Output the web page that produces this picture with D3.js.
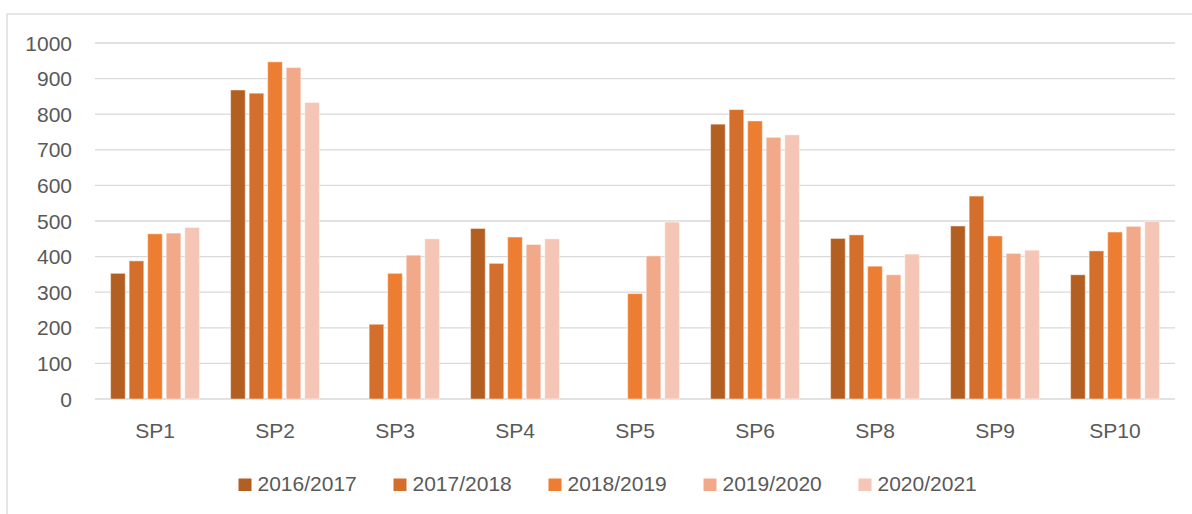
<!DOCTYPE html>
<html>
<head>
<meta charset="utf-8">
<script src="https://cdn.jsdelivr.net/npm/d3@7"></script>
<style>
  html, body { margin: 0; padding: 0; background: #fff; }
  svg { display: block; }
</style>
</head>
<body>
<svg id="chart" width="1192" height="514"></svg>
<script>
const categories = ["SP1", "SP2", "SP3", "SP4", "SP5", "SP6", "SP8", "SP9", "SP10"];
const seriesNames = ["2016/2017", "2017/2018", "2018/2019", "2019/2020", "2020/2021"];
const s2016 = [353, 868, null, 479, null, 772, 451, 486, 349];
const s2017 = [388, 859, 210, 381, null, 813, 461, 570, 416];
const s2018 = [464, 947, 353, 455, 296, 781, 373, 458, 469];
const s2019 = [466, 931, 404, 434, 402, 735, 349, 409, 485];
const s2020 = [482, 833, 450, 450, 497, 742, 407, 418, 499];
const yTicks = [0, 100, 200, 300, 400, 500, 600, 700, 800, 900, 1000];
const colors = ["#B45F22", "#D46F2B", "#ED7D31", "#F1A98A", "#F5C6B6"];

const seriesValues = [s2016, s2017, s2018, s2019, s2020];

const svg = d3.select("#chart");
const font = "'Liberation Sans', Arial, sans-serif";
const textColor = "#595959";

// chart border
svg.append("rect")
  .attr("x", 7).attr("y", 14)
  .attr("width", 1200).attr("height", 600)
  .attr("fill", "none").attr("stroke", "#D9D9D9").attr("stroke-width", 1.3);

const x0 = d3.scaleBand().domain(categories).range([95, 1175])
  .paddingInner(0.26).paddingOuter(0.13);
const x1 = d3.scaleBand().domain(seriesNames).range([0, x0.bandwidth()])
  .paddingInner(0.21);
const y = d3.scaleLinear().domain([0, 1000]).range([399, 43]);

// gridlines
svg.append("g").selectAll("line").data(yTicks).join("line")
  .attr("x1", 95).attr("x2", 1175)
  .attr("y1", d => y(d)).attr("y2", d => y(d))
  .attr("stroke", "#D9D9D9").attr("stroke-width", 1.3);

// y labels
svg.append("g").selectAll("text").data(yTicks).join("text")
  .attr("x", 72).attr("y", d => y(d) + 7.5)
  .attr("text-anchor", "end")
  .attr("font-family", font).attr("font-size", 21)
  .attr("fill", textColor)
  .text(d => d);

// bars
const barData = [];
seriesValues.forEach((vals, si) => {
  vals.forEach((v, ci) => {
    if (v !== null) barData.push({ cat: categories[ci], series: seriesNames[si], si, v });
  });
});
svg.append("g").selectAll("rect").data(barData).join("rect")
  .attr("x", d => x0(d.cat) + x1(d.series))
  .attr("y", d => y(d.v))
  .attr("width", x1.bandwidth())
  .attr("height", d => y(0) - y(d.v))
  .attr("fill", d => colors[d.si])
  .attr("stroke", "#ffffff").attr("stroke-opacity", 0.45).attr("stroke-width", 1);

// x labels
svg.append("g").selectAll("text").data(categories).join("text")
  .attr("x", d => x0(d) + x0.bandwidth() / 2)
  .attr("y", 438)
  .attr("text-anchor", "middle")
  .attr("font-family", font).attr("font-size", 21)
  .attr("fill", textColor)
  .text(d => d);

// legend
const legendX = d3.scalePoint().domain(seriesNames).range([238.5, 858.5]);
const leg = svg.append("g").selectAll("g").data(seriesNames).join("g")
  .attr("transform", d => `translate(${legendX(d)},0)`);
leg.append("rect")
  .attr("x", 0).attr("y", 478.5).attr("width", 13).attr("height", 12.5)
  .attr("fill", (d, i) => colors[i]);
leg.append("text")
  .attr("x", 19).attr("y", 491)
  .attr("font-family", font).attr("font-size", 21)
  .attr("fill", textColor)
  .text(d => d);
</script>
</body>
</html>
